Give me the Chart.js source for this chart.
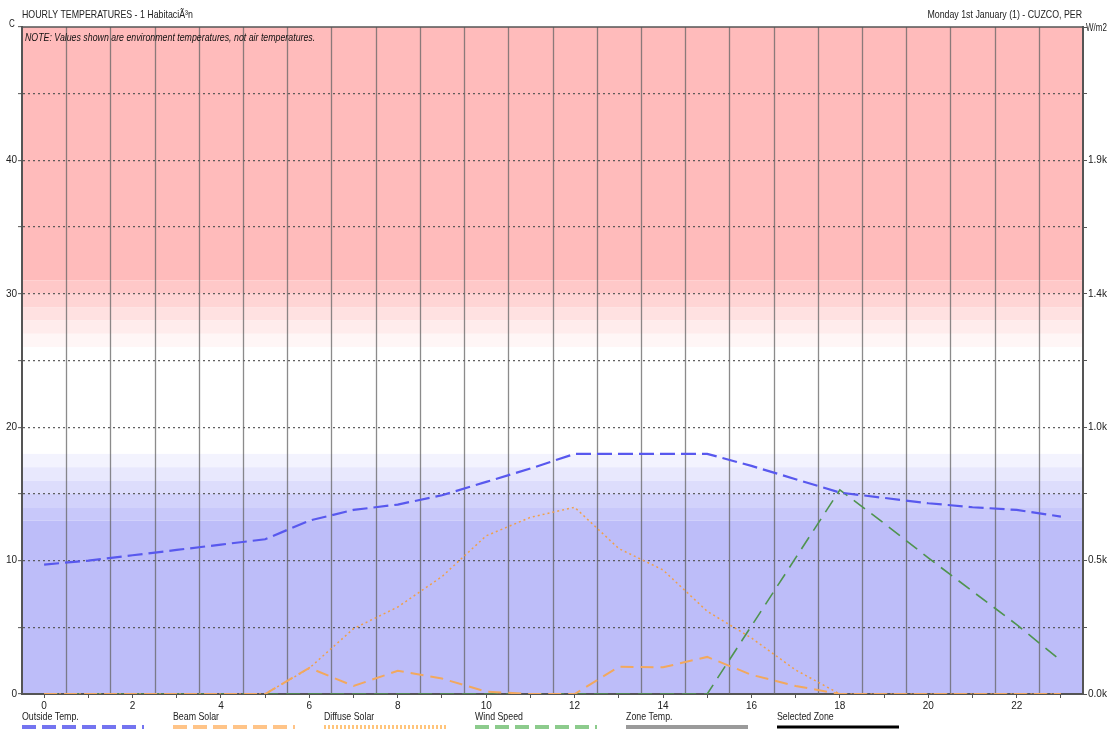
<!DOCTYPE html>
<html><head><meta charset="utf-8">
<script src="https://cdn.jsdelivr.net/npm/chart.js@4/dist/chart.umd.min.js"></script>
<style>html,body{margin:0;padding:0;background:#fff;overflow:hidden}#wrap{width:1113px;height:731px;position:relative}</style>
</head><body><div id="wrap"><canvas id="c" width="1113" height="731"></canvas></div>
<script>
// ---- data ----
const hours = [0,1,2,3,4,5,6,7,8,9,10,11,12,13,14,15,16,17,18,19,20,21,22,23];
const outsideTemp = [9.7,10.0,10.4,10.8,11.2,11.6,13.0,13.8,14.2,14.9,15.9,16.9,18.0,18.0,18.0,18.0,17.1,16.1,15.1,14.7,14.3,14.0,13.8,13.3];
const beamSolar = [0,0,0,0,0,0,98,30,87,58,9,0,0,102,100,139,72,30,0,0,0,0,0,0];
const diffuseSolar = [0,0,0,0,0,0,97,245,326,440,593,662,700,545,465,310,210,90,0,0,0,0,0,0];
const windSpeed = [0,0,0,0,0,0,0,0,0,0,0,0,0,0,0,0,5.1,10.2,15.3,12.8,10.2,7.7,5.2,2.5];
const zoneTemp = [];
const selectedZone = [];
const leftTickLabels = {0:'0',10:'10',20:'20',30:'30',40:'40'};
const rightTickLabels = {0:'0.0k',500:'0.5k',1000:'1.0k',1500:'1.4k',2000:'1.9k'};
const titleLeft = 'HOURLY TEMPERATURES - 1 HabitaciÃ³n';
const titleRight = 'Monday 1st January (1) - CUZCO, PER';
const noteText = 'NOTE: Values shown are environment temperatures, not air temperatures.';

const FONT = '"Liberation Sans",Arial,sans-serif';
const SX = 0.8; // narrow text look
const pts = arr => arr.map((v,i)=>({x:hours[i], y:v}));

// comfort band background (temperature bands)
const bands = [
  [31,50,'rgb(255,187,187)'],
  [30,31,'rgb(255,200,200)'],[29,30,'rgb(255,213,213)'],[28,29,'rgb(255,225,225)'],[27,28,'rgb(255,236,236)'],[26,27,'rgb(255,246,246)'],
  [18,26,'rgb(255,255,255)'],
  [17,18,'rgb(243,243,254)'],[16,17,'rgb(232,232,253)'],[15,16,'rgb(221,221,252)'],[14,15,'rgb(210,210,251)'],[13,14,'rgb(200,200,250)'],
  [0,13,'rgb(189,189,249)']
];

function narrowText(ctx, text, x, y, align){
  ctx.save();
  ctx.translate(x, y);
  ctx.scale(SX, 1);
  ctx.textAlign = align || 'left';
  ctx.fillText(text, 0, 0);
  ctx.restore();
}

const bgPlugin = {
  id:'bg',
  beforeDraw(chart){
    const {ctx, chartArea:a, scales:{y}} = chart;
    ctx.save();
    bands.forEach(([lo,hi,c])=>{
      const y1 = y.getPixelForValue(hi), y2 = y.getPixelForValue(lo);
      ctx.fillStyle = c;
      ctx.fillRect(a.left, y1, a.right-a.left, y2-y1);
    });
    ctx.restore();
  },
  beforeDatasetsDraw(chart){
    const {ctx, chartArea:a, scales:{x}} = chart;
    ctx.save();
    ctx.strokeStyle = 'rgba(100,100,100,0.75)';
    ctx.lineWidth = 1.3;
    for (let h=0; h<hours.length-1; h++){
      const px = Math.round(x.getPixelForValue(hours[h]+0.5))+0.5;
      ctx.beginPath(); ctx.moveTo(px, a.top); ctx.lineTo(px, a.bottom); ctx.stroke();
    }
    // top border
    ctx.strokeStyle = '#555'; ctx.lineWidth = 1.5;
    ctx.beginPath(); ctx.moveTo(a.left, a.top); ctx.lineTo(a.right, a.top); ctx.stroke();
    // note text
    ctx.fillStyle = '#111';
    ctx.font = 'italic 11px ' + FONT;
    ctx.textBaseline = 'alphabetic';
    narrowText(ctx, noteText, a.left+3, a.top+14, 'left');
    ctx.restore();
  },
  afterDraw(chart){
    const {ctx, chartArea:a} = chart;
    ctx.save();
    ctx.fillStyle = '#222';
    ctx.font = '11px ' + FONT;
    ctx.textBaseline = 'alphabetic';
    narrowText(ctx, titleLeft, a.left, a.top-9, 'left');
    narrowText(ctx, titleRight, a.right-1, a.top-9, 'right');
    ctx.font = '10px ' + FONT;
    narrowText(ctx, 'C', a.left-13, a.top, 'left');
    narrowText(ctx, 'W/m2', a.right+3, a.top+4, 'left');
    // legend
    chart.data.datasets.forEach((ds,i)=>{
      const lx = a.left + i*151;
      ctx.fillStyle = '#222';
      ctx.font = '11px ' + FONT;
      narrowText(ctx, ds.label, lx, 720, 'left');
      ctx.strokeStyle = ds.legendColor || ds.borderColor;
      ctx.lineWidth = ds.legendWidth || 4;
      ctx.setLineDash(ds.legendDash || []);
      ctx.beginPath(); ctx.moveTo(lx, 727); ctx.lineTo(lx+122, 727); ctx.stroke();
      ctx.setLineDash([]);
    });
    ctx.restore();
  }
};

new Chart(document.getElementById('c'), {
  type:'line',
  data:{
    datasets:[
      {label:'Outside Temp.', data:pts(outsideTemp), yAxisID:'y', borderColor:'#5858EE', borderWidth:2.2, borderDash:[15,6], legendColor:'#7474F0', legendDash:[14,6]},
      {label:'Beam Solar', data:pts(beamSolar), yAxisID:'y1', borderColor:'#F2A85E', borderWidth:2, borderDash:[13,7], legendColor:'#FFC488', legendDash:[14,6]},
      {label:'Diffuse Solar', data:pts(diffuseSolar), yAxisID:'y1', borderColor:'#F0A04A', borderWidth:1.5, borderDash:[2,3], legendColor:'#FFC47A', legendDash:[2,2]},
      {label:'Wind Speed', data:pts(windSpeed), yAxisID:'y', borderColor:'#4F944F', borderWidth:1.6, borderDash:[14,8], legendColor:'#8CCB8C', legendDash:[14,6]},
      {label:'Zone Temp.', data:pts(zoneTemp), yAxisID:'y', borderColor:'#9A9A9A', borderWidth:3, legendWidth:4},
      {label:'Selected Zone', data:pts(selectedZone), yAxisID:'y', borderColor:'#000000', borderWidth:2, legendWidth:3}
    ]
  },
  plugins:[bgPlugin],
  options:{
    responsive:false, animation:false, devicePixelRatio:1,
    layout:{padding:{top:27,left:0,right:0,bottom:0}},
    plugins:{legend:{display:false}, title:{display:false}, tooltip:{enabled:false}},
    elements:{point:{radius:0}, line:{tension:0, fill:false}},
    scales:{
      x:{type:'linear', min:-0.5, max:23.5,
        afterBuildTicks: s => { s.ticks = hours.map(h=>({value:h})); },
        ticks:{callback:v => (v%2===0 ? String(v) : ''), autoSkip:false, maxRotation:0, minRotation:0, padding:2, color:'#222', font:{family:FONT, size:10}},
        grid:{drawOnChartArea:false, drawTicks:true, tickLength:4, tickColor:'#555', tickWidth:1},
        border:{color:'#555', width:2},
        afterFit: s => { s.height = 37; }
      },
      y:{position:'left', min:0, max:50,
        ticks:{stepSize:5, callback:v => (leftTickLabels[v] ?? ''), autoSkip:false, padding:1, color:'#222', font:{family:FONT, size:10}},
        grid:{color: c => (c.tick && (c.tick.value===0 || c.tick.value===50)) ? 'rgba(0,0,0,0)' : 'rgba(80,80,80,0.9)', lineWidth:1.3, tickLength:4, tickColor:'#555', tickWidth:1},
        border:{color:'#555', width:2, dash:[2,3]},
        afterFit: s => { s.width = 22; }
      },
      y1:{position:'right', min:0, max:2500,
        ticks:{stepSize:250, callback:v => (rightTickLabels[v] ?? ''), autoSkip:false, padding:1, color:'#222', font:{family:FONT, size:10}},
        grid:{drawOnChartArea:false, tickLength:4, tickColor:'#555', tickWidth:1},
        border:{color:'#555', width:2},
        afterFit: s => { s.width = 30; }
      }
    }
  }
});
</script>
</body></html>
